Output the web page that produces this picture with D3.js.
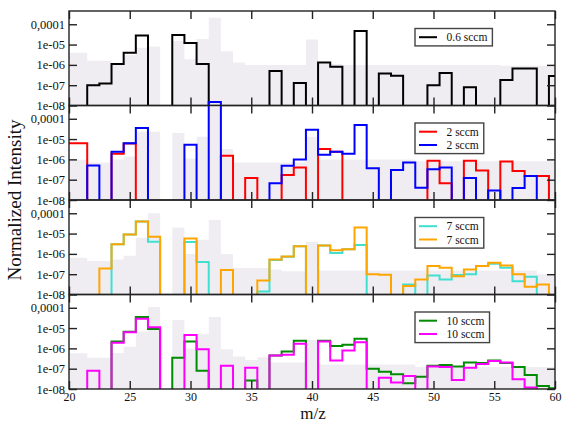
<!DOCTYPE html>
<html>
<head>
<meta charset="utf-8">
<script src="https://cdn.jsdelivr.net/npm/d3@7"></script>
<style>
  body { margin: 0; background: #fff; }
  svg { font-family: "Liberation Serif", "Times New Roman", serif; }
</style>
</head>
<body>
<svg width="562" height="423"></svg>
<script>
// m/z channels, one value per channel (null = nothing recorded)
const mz = [20, 21, 22, 23, 24, 25, 26, 27, 28, 29, 30, 31, 32, 33, 34, 35, 36, 37, 38, 39, 40,
            41, 42, 43, 44, 45, 46, 47, 48, 49, 50, 51, 52, 53, 54, 55, 56, 57, 58, 59, 60];

const xTicks = [20, 25, 30, 35, 40, 45, 50, 55, 60];
const yTicks = [1e-8, 1e-7, 1e-6, 1e-5, 1e-4];
const yTickLabels = ["1e-08", "1e-07", "1e-06", "1e-05", "0,0001"];

// 0.6 sccm
const s06 = [null, null, 1e-7, 1.2e-7, 1.1e-6, 4e-6, 2.8e-5, null, null, 3e-5, 1.2e-5, 1.1e-6, null, null, null, null, null, 5e-7, null, 1.3e-7, null,
             1.3e-6, 8e-7, null, 4.6e-5, null, 3.8e-7, 2.9e-7, null, null, 1e-7, 4e-7, null, 8e-8, null, null, 1.8e-7, 6.6e-7, 6.6e-7, null, 2.8e-7];
// 2 sccm (red, blue)
const s2a = [6.3e-6, 6.3e-6, null, null, 1.9e-6, 6e-6, null, null, null, null, null, null, null, 1.5e-6, null, 1.2e-7, null, null, 1.7e-7, 4e-7, null,
             3.2e-6, 2.4e-6, null, null, null, null, null, null, null, 8.5e-7, 6.6e-8, null, 8.5e-7, 2.8e-7, null, 7.8e-7, 2.7e-7, 1.5e-7, 1.5e-7, null];
const s2b = [null, null, 5e-7, null, 2.4e-6, 6.3e-6, 3.5e-5, null, null, null, 5.2e-6, null, 6.7e-4, null, null, null, null, 6.6e-8, 4.9e-7, 1e-6, 2.9e-5,
             1.7e-6, 2.4e-6, 1.9e-6, 5e-5, 3.7e-7, null, 3e-7, 7e-7, 4e-8, 3.3e-7, 4e-7, null, 1.2e-7, null, 2.9e-8, null, 3.9e-8, 1.5e-7, null, null];
// 7 sccm (turquoise, orange)
const s7a = [null, null, null, null, 3e-6, 9e-6, 3.9e-5, 4e-6, null, null, 3.8e-6, 4e-7, null, null, null, null, 1.4e-8, 5e-7, 7.3e-7, 2.4e-6, null,
             2.6e-6, 1.1e-6, 1.7e-6, 2.7e-6, null, null, null, 3.1e-8, null, 8.7e-8, 5.5e-8, 9e-8, 1e-7, 2.5e-7, 3.3e-7, 2.1e-7, 4.5e-8, 7.5e-8, null, null];
const s7b = [null, null, null, 1.9e-7, 3e-6, 9e-6, 3.9e-5, 7e-6, null, null, 5.8e-6, null, null, 1.6e-7, null, null, 4.9e-8, 5.3e-7, 7.5e-7, 2.4e-6, null,
             2.6e-6, 1.5e-6, 1.7e-6, 2e-5, 1e-7, 9.5e-8, null, 2.6e-8, 5.5e-8, 2.5e-7, 2.1e-7, 8e-8, 1.7e-7, 2.5e-7, 3.7e-7, 2.7e-7, 1e-7, 2.4e-8, 3.1e-8, null];
// 10 sccm (green, magenta)
const s10a = [null, null, null, null, 2.2e-6, 6.6e-6, 3.5e-5, 9e-6, null, 3.5e-7, 2.2e-6, 8e-8, null, null, null, 2.6e-8, null, 4.4e-7, 7e-7, 2.4e-6, null,
              2.4e-6, 1.3e-6, 1.5e-6, 3e-6, 1e-7, 7e-8, 5.3e-8, 1.9e-8, 4e-8, 1.4e-7, 1.5e-7, 1.3e-7, 2e-7, 1.9e-7, 2.5e-7, 1.9e-7, 1.2e-7, 4.9e-8, 1.4e-8, 1.1e-8];
const s10b = [null, null, 8e-8, null, 1.9e-6, 6.3e-6, 2.9e-5, 1.1e-5, null, null, 4.6e-6, 9e-7, null, 1.4e-7, null, 1.1e-7, null, 4.4e-7, 4.8e-7, 1.7e-6, null,
              2.2e-6, 2.5e-7, 7.8e-7, 2e-6, null, 3.6e-8, 2.1e-8, 4.4e-8, null, 1.3e-7, 1.2e-7, 2.8e-8, 1.1e-7, 1.7e-7, 2.4e-7, 2e-7, 3e-8, 1.2e-8, null, null];

// light reference spectra behind each panel
const ref1 = [4e-6, 4e-6, 1.6e-6, 1.6e-6, 1.2e-6, 3e-6, 7e-6, 8e-6, null, 1.5e-5, 1.9e-6, 1.9e-5, 2.1e-4, 4.7e-6, 1.3e-6, 1e-6, 1e-6, 1e-6, 1e-6, 1e-6, 1.8e-5,
              1.1e-6, 1.1e-6, 1e-6, 1e-6, 1e-6, 1e-6, 1e-6, 1e-6, 1e-6, 1e-6, 1e-6, 1e-6, 1e-6, 1e-6, 1e-6, 9e-7, 9e-7, 9e-7, 9e-7, 9e-7];
const ref2 = [9.5e-7, 9.5e-7, 7e-7, 7e-7, 1e-6, 1.4e-6, 2.3e-5, 2.3e-5, null, 2e-5, 1.1e-6, 1.3e-5, 5e-4, 3.2e-6, 7e-7, 7e-7, 7e-7, 7e-7, 7e-7, 7e-7, 1.3e-5,
              1e-6, 1e-6, 1e-6, 1e-6, 1e-6, 1e-6, 1e-6, 1e-6, 8e-7, 8e-7, 8e-7, 8e-7, 8e-7, 8e-7, 8e-7, 8e-7, 8e-7, 8e-7, 8e-7, 8e-7];
const ref3 = [6.5e-7, 6.5e-7, 4.4e-7, 4.4e-7, 5.3e-7, 8e-7, 6.3e-6, 1e-4, null, 2e-5, 1e-6, 5e-6, 4.7e-5, 1e-6, 2e-7, 2e-7, 2e-7, 1.7e-7, 1.4e-7, 1.4e-7, 4e-6,
              1.5e-7, 1.5e-7, 1.5e-7, 1.5e-7, 1.5e-7, 1.5e-7, 1.5e-7, 1.5e-7, 1.5e-7, 1.5e-7, 1.5e-7, 1.5e-7, 1.5e-7, 1.5e-7, 1.5e-7, 1.5e-7, 1.5e-7, 1.5e-7, 1e-7, 1e-7];
const ref4 = [5.8e-7, 5.8e-7, 3.5e-7, 3.5e-7, 6e-7, 1.2e-6, 6.7e-6, 1.1e-4, null, 2.5e-5, 1e-6, 5e-6, 3.5e-5, 9e-7, 4e-7, 2.7e-7, 3.7e-7, 2e-7, 2e-7, 2e-7, 2.6e-6,
              1.6e-7, 1.6e-7, 1.6e-7, 1.6e-7, 1.6e-7, 1.6e-7, 1.6e-7, 1.6e-7, 1.2e-7, 1.2e-7, 1.2e-7, 1.2e-7, 1.2e-7, 1.2e-7, 1.2e-7, 1.2e-7, 1.2e-7, 1.2e-7, 1.2e-7, 1.2e-7];

const panels = [
    { ref: ref1, series: [{ label: "0.6 sccm", values: s06, color: "#000000" }] },
    { ref: ref2, series: [{ label: "2 sccm", values: s2a, color: "#ff0000" },
                          { label: "2 sccm", values: s2b, color: "#0000ff" }] },
    { ref: ref3, series: [{ label: "7 sccm", values: s7a, color: "#40e0d0" },
                          { label: "7 sccm", values: s7b, color: "#ffa500" }] },
    { ref: ref4, series: [{ label: "10 sccm", values: s10a, color: "#008b00" },
                          { label: "10 sccm", values: s10b, color: "#ff00ff" }] }
];

const svg = d3.select("svg");
const left = 69, right = 555, plotTop = 11, panelH = 94.5;
const x = d3.scaleLinear().domain([20, 60]).range([left, right]);

// histogram-style step outline, dropping to the baseline around empty channels
function stepPath(values, y, base) {
    const p = d3.path();
    values.forEach((v, i) => {
        if (v == null) return;
        const m = mz[i];
        const prev = i > 0 ? values[i - 1] : null;
        const next = i < values.length - 1 ? values[i + 1] : null;
        if (prev == null) {
            p.moveTo(x(m - 0.5), base);
        }
        p.lineTo(x(m - 0.5), y(v));
        p.lineTo(x(m + 0.5), y(v));
        if (next == null) {
            p.lineTo(x(m + 0.5), base);
        }
    });
    return p.toString();
}

const defs = svg.append("defs");

panels.forEach((panel, k) => {
    const top = plotTop + k * panelH;
    const bottom = top + panelH;
    const y = d3.scaleLog().domain([1e-8, 4.5e-4]).range([bottom, top]);
    const g = svg.append("g");

    defs.append("clipPath").attr("id", "clipIn" + k)
        .append("rect").attr("x", left).attr("y", top).attr("width", right - left).attr("height", panelH);
    defs.append("clipPath").attr("id", "clipLine" + k)
        .append("rect").attr("x", left).attr("y", 0).attr("width", right - left).attr("height", bottom);

    g.append("path")
        .attr("d", stepPath(panel.ref, y, bottom))
        .attr("fill", "#efedf2")
        .attr("clip-path", `url(#clipIn${k})`);

    panel.series.forEach(s => {
        g.append("path")
            .attr("d", stepPath(s.values, y, bottom))
            .attr("fill", "none")
            .attr("stroke", s.color)
            .attr("stroke-width", 2)
            .attr("stroke-linejoin", "miter")
            .attr("clip-path", `url(#clipLine${k})`);
    });

    // axes with inward ticks
    const yl = g.append("g").attr("transform", `translate(${left},0)`)
        .call(d3.axisLeft(y).tickValues(yTicks).tickSize(-8).tickPadding(4)
            .tickFormat((d, i) => yTickLabels[i]));
    const yr = g.append("g").attr("transform", `translate(${right},0)`)
        .call(d3.axisRight(y).tickValues(yTicks).tickSize(-8).tickFormat(""));
    const xt = g.append("g").attr("transform", `translate(0,${top})`)
        .call(d3.axisTop(x).tickValues(xTicks).tickSize(-8).tickFormat(""));
    const xb = g.append("g").attr("transform", `translate(0,${bottom})`)
        .call(d3.axisBottom(x).tickValues(xTicks).tickSize(-8).tickPadding(3.5)
            .tickFormat(k === panels.length - 1 ? d3.format("d") : ""));

    [yl, yr, xt, xb].forEach(a => {
        a.select(".domain").remove();
        a.selectAll(".tick line").attr("stroke", "#222").attr("stroke-width", 1.4);
        a.selectAll(".tick text").attr("fill", "#111")
            .style("font-family", "'Liberation Serif', serif").style("font-size", "12.5px");
    });
    xb.selectAll(".tick text").style("font-size", "12px");

    g.append("rect")
        .attr("x", left).attr("y", top)
        .attr("width", right - left).attr("height", panelH)
        .attr("fill", "none").attr("stroke", "#222").attr("stroke-width", 1.4);

    // legend
    const lg = g.append("g").attr("transform", `translate(415,${top + 17.5})`);
    const box = lg.append("rect").attr("fill", "#fff").attr("stroke", "#444").attr("stroke-width", 1.4);
    let textEnd = 0;
    panel.series.forEach((s, j) => {
        const ly = 8.7 + j * 13.3;
        lg.append("line").attr("x1", 4).attr("x2", 22).attr("y1", ly).attr("y2", ly)
            .attr("stroke", s.color).attr("stroke-width", 2);
        const t = lg.append("text").attr("x", 31.5).attr("y", ly + 4)
            .style("font-size", "11.5px").attr("fill", "#111").text(s.label);
        textEnd = Math.max(textEnd, 31.5 + t.node().getComputedTextLength());
    });
    box.attr("x", 0).attr("y", 0).attr("width", textEnd + 5)
        .attr("height", panel.series.length === 1 ? 17.4 : 30.6);
});

svg.append("text")
    .attr("transform", `translate(21,${plotTop + 2 * panelH}) rotate(-90)`)
    .attr("text-anchor", "middle")
    .style("font-size", "19px")
    .attr("fill", "#111")
    .text("Normalized Intensity");

svg.append("text")
    .attr("x", 313).attr("y", 419.3)
    .attr("text-anchor", "middle")
    .style("font-size", "17px")
    .attr("fill", "#111")
    .text("m/z");
</script>
</body>
</html>
